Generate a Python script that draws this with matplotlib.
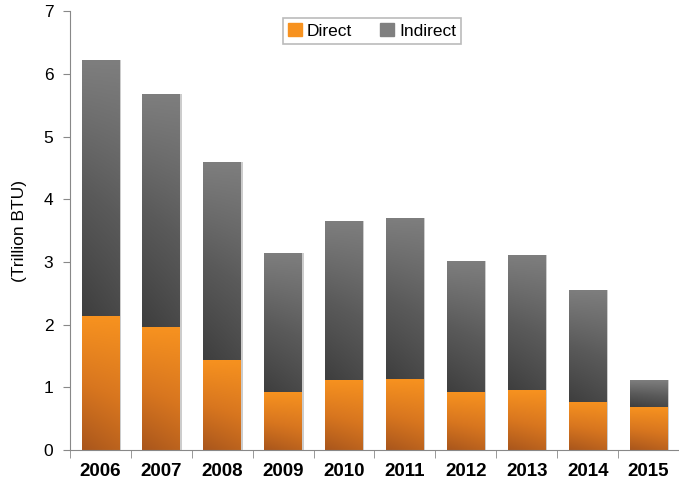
import matplotlib.pyplot as plt
import numpy as np
from matplotlib.colors import LinearSegmentedColormap
from matplotlib.patches import Patch

plt.rcParams['font.family'] = ['Liberation Sans', 'DejaVu Sans']

years = ['2006', '2007', '2008', '2009', '2010', '2011', '2012', '2013', '2014', '2015']
direct = [2.13, 1.96, 1.44, 0.92, 1.12, 1.13, 0.92, 0.95, 0.77, 0.68]
total = [6.22, 5.68, 4.60, 3.15, 3.66, 3.70, 3.01, 3.11, 2.56, 1.11]
indirect = [t - d for t, d in zip(total, direct)]

fig = plt.figure(figsize=(6.79, 4.86), dpi=100)
ax = fig.add_axes([0.103, 0.074, 0.897, 0.903])

x = np.arange(len(years))
w = 0.62
b1 = ax.bar(x, direct, w, color='#F18A1E', label='Direct')
b2 = ax.bar(x, indirect, w, bottom=direct, color='#7A7A7A', label='Indirect')

# gradient fills (light at top, dark at bottom) clipped to each bar
orange = LinearSegmentedColormap.from_list('o', ['#A9561C', '#D8761F', '#F7921F'])
gray = LinearSegmentedColormap.from_list('g', ['#3E3E3E', '#5A5A5A', '#7E7E7E'])
yy, xx = np.mgrid[0:1:100j, 0:1:30j]
grad = yy - 0.25 * (1 - xx) * (1 - yy)
for bars, cmap in ((b1, orange), (b2, gray)):
    for p in bars:
        x0, y0 = p.get_x(), p.get_y()
        pw, ph = p.get_width(), p.get_height()
        # faint shadow on the right side
        ax.add_patch(plt.Rectangle((x0 + pw, y0), 0.025, ph, color='#CCCCCC',
                                   lw=0, zorder=1))
        im = ax.imshow(grad, extent=[x0, x0 + pw, y0, y0 + ph], origin='lower',
                       cmap=cmap, aspect='auto', zorder=2, interpolation='bilinear')
        im.set_clip_path(p)
        p.set_facecolor('none')

ax.set_xlim(-0.5, 9.5)
ax.set_ylim(0, 7)
ax.set_yticks(range(0, 8))
ax.set_xticks(x)
ax.set_xticklabels(years, fontsize=13.5, fontweight='bold')
ax.set_xticks(np.arange(-0.5, 10, 1), minor=True)
ax.tick_params(axis='x', which='major', length=0, pad=9)
ax.tick_params(axis='x', which='minor', length=6, color='#888888', direction='out')
ax.tick_params(axis='y', labelsize=12.5, length=5, color='#888888', pad=7)
ax.set_ylabel('(Trillion BTU)', fontsize=12.5, labelpad=12)

for s in ['top', 'right']:
    ax.spines[s].set_visible(False)
for s in ['left', 'bottom']:
    ax.spines[s].set_color('#888888')

handles = [Patch(color='#F7921F', label='Direct'), Patch(color='#808080', label='Indirect')]
leg = ax.legend(handles=handles, loc='upper center', bbox_to_anchor=(0.496, 1.005), ncol=2,
                fontsize=12.5, frameon=True, fancybox=False, handlelength=0.8,
                handleheight=0.8, columnspacing=1.6, handletextpad=0.3,
                borderpad=0.3)
leg.get_frame().set_edgecolor('#AAAAAA')
leg.get_frame().set_linewidth(1.2)

fig.savefig('out.png', dpi=100)
